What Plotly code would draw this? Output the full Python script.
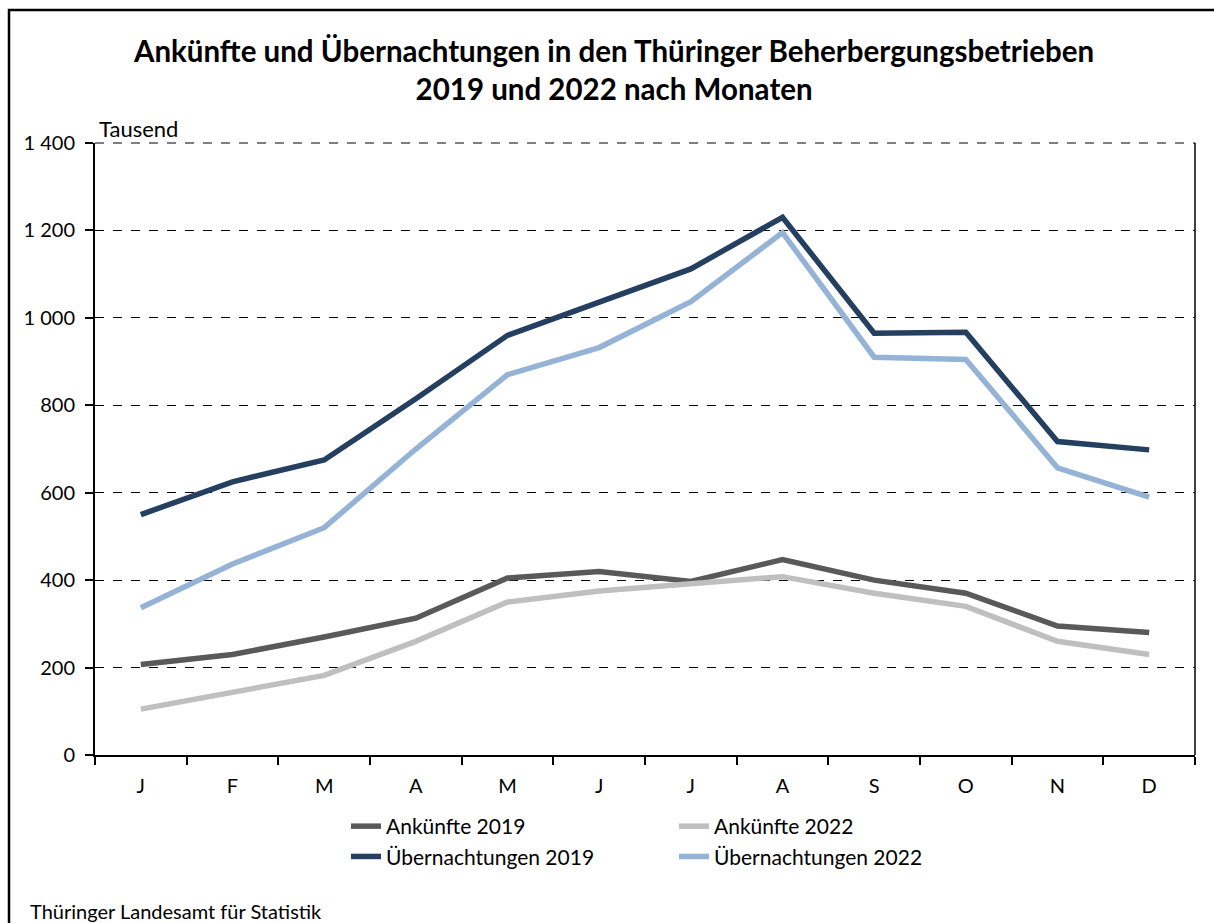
import plotly.graph_objects as go

months = ["J", "F", "M", "A", "M", "J", "J", "A", "S", "O", "N", "D"]
ank_2019 = [207, 230, 270, 313, 405, 420, 397, 447, 400, 370, 295, 280]
ank_2022 = [105, 142, 182, 260, 350, 375, 390, 408, 370, 340, 260, 230]
ueb_2019 = [550, 625, 675, 815, 960, 1035, 1112, 1230, 965, 967, 717, 698]
ueb_2022 = [337, 437, 520, 700, 870, 932, 1037, 1195, 910, 905, 657, 590]
y_ticks = [0, 200, 400, 600, 800, 1000, 1200, 1400]

FONT = "Lato"
x = list(range(len(months)))

series = [
    ("Ankünfte 2019", ank_2019, "#595959", "legend"),
    ("Übernachtungen 2019", ueb_2019, "#243f60", "legend"),
    ("Ankünfte 2022", ank_2022, "#bfbfbf", "legend2"),
    ("Übernachtungen 2022", ueb_2022, "#95b3d7", "legend2"),
]

fig = go.Figure()
for name, vals, col, leg in series:
    fig.add_trace(go.Scatter(x=x, y=vals, mode="lines", name=name,
                             line=dict(color=col, width=5.5), legend=leg))

W, H = 1214, 923
L, R, T, B = 95, 19, 143, 168
pw = W - L - R
ph = H - T - B

def px_x(p):
    return (p - L) / pw

def px_y(p):
    return (H - B - p) / ph

fig.update_layout(
    width=W, height=H,
    margin=dict(l=L, r=R, t=T, b=B),
    paper_bgcolor="white", plot_bgcolor="white",
    separators=", ",
    font=dict(family=FONT, color="black", size=18),
    showlegend=True,
    legend=dict(x=px_x(346), y=px_y(806), xanchor="left", yanchor="top",
                font=dict(size=21, family=FONT), bgcolor="rgba(0,0,0,0)",
                itemwidth=30, tracegroupgap=0),
    legend2=dict(x=px_x(674), y=px_y(806), xanchor="left", yanchor="top",
                 font=dict(size=21, family=FONT), bgcolor="rgba(0,0,0,0)",
                 itemwidth=30, tracegroupgap=0),
)

fig.update_xaxes(
    range=[-0.5, len(months) - 0.5],
    tickvals=x, ticktext=months,
    ticks="", showgrid=False,
    showline=True, linecolor="black", linewidth=2,
    tickfont=dict(size=20, family=FONT),
    ticklabelstandoff=12,
    minor=dict(tickvals=[i - 0.5 for i in range(len(months) + 1)],
               ticks="outside", ticklen=8, tickcolor="black", tickwidth=1.5,
               showgrid=False),
    zeroline=False,
)
fig.update_yaxes(
    range=[0, 1400], tickvals=y_ticks, tickformat=",d",
    ticks="outside", ticklen=8, tickcolor="black", tickwidth=1.5,
    showline=True, linecolor="black", linewidth=2,
    showgrid=True, gridcolor="black", gridwidth=1, griddash="dash",
    tickfont=dict(size=20, family=FONT),
    ticklabelstandoff=6,
    zeroline=False,
)

# top dashed gridline, right border of plot area and outer frame
fig.add_shape(type="line", xref="paper", yref="paper", x0=0, x1=1, y0=1, y1=1,
              line=dict(color="black", width=1, dash="dash"))
fig.add_shape(type="line", xref="paper", yref="paper", x0=1, x1=1, y0=0, y1=1,
              line=dict(color="black", width=1.5))
fig.add_shape(type="rect", xref="paper", yref="paper",
              x0=px_x(9), x1=px_x(1230), y0=px_y(10), y1=px_y(940),
              line=dict(color="black", width=2.5), layer="below")

fig.add_annotation(
    text="<b>Ankünfte und Übernachtungen in den Thüringer Beherbergungsbetrieben<br>2019 und 2022 nach Monaten</b>",
    xref="paper", yref="paper", x=px_x(613), y=px_y(70), xanchor="center", yanchor="middle",
    showarrow=False, font=dict(size=29.5, family=FONT), align="center")
fig.add_annotation(text="Tausend", xref="paper", yref="paper", x=px_x(97), y=px_y(128),
                   xanchor="left", yanchor="middle", showarrow=False,
                   font=dict(size=22, family=FONT))
fig.add_annotation(text="Thüringer Landesamt für Statistik", xref="paper", yref="paper",
                   x=px_x(28), y=px_y(911), xanchor="left", yanchor="middle",
                   showarrow=False, font=dict(size=20, family=FONT))

fig.write_html("out.html", config={"displayModeBar": False},
               post_script="document.body.style.margin='0';")
